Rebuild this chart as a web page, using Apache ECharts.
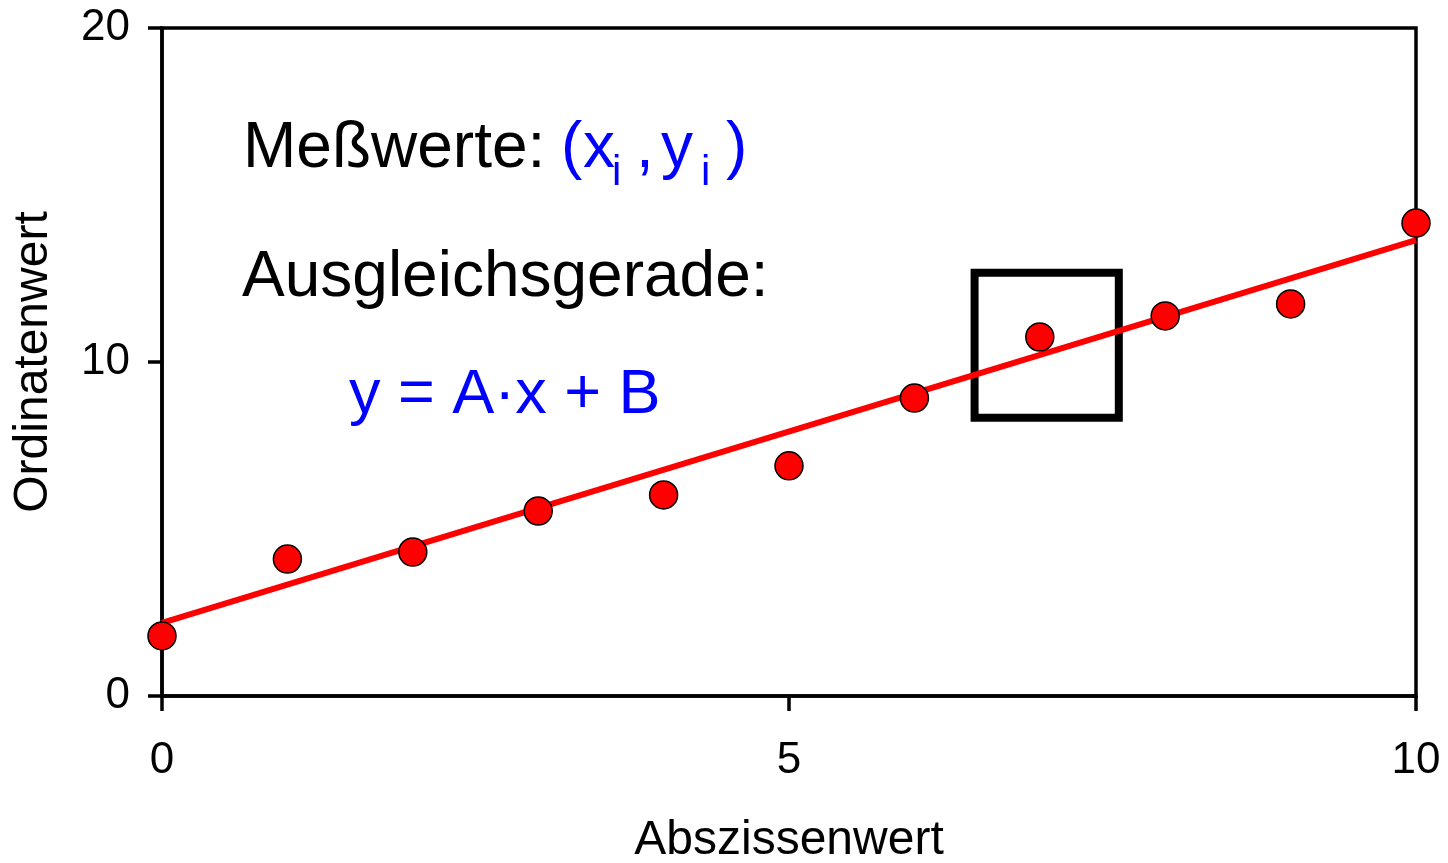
<!DOCTYPE html>
<html>
<head>
<meta charset="utf-8">
<style>
  html, body { margin: 0; padding: 0; background: #fff; }
  #chart { width: 1448px; height: 863px; }
</style>
<script src="https://cdn.jsdelivr.net/npm/echarts@6/dist/echarts.min.js"></script>
</head>
<body>
<div id="chart"></div>
<script>
// Measured points (x_i, y_i)
const xValues = [0, 1, 2, 3, 4, 5, 6, 7, 8, 9, 10];
const yValues = [1.80, 4.10, 4.31, 5.54, 6.02, 6.89, 8.92, 10.75, 11.38, 11.74, 14.16];

// End points of the fitted line y = A·x + B
const fitLine = [[0, 2.19], [10, 13.65]];

// Rectangle drawn around the highlighted measurement (data coordinates)
const highlightBox = { x0: 6.48, x1: 7.63, y0: 8.33, y1: 12.67 };

// Axis ranges and tick spacing
const xAxisRange = { min: 0, max: 10, interval: 5 };
const yAxisRange = { min: 0, max: 20, interval: 10 };

const axisTitles = { x: 'Abszissenwert', y: 'Ordinatenwert' };

const FONT = '"Liberation Sans", Arial, sans-serif';
const BLUE = '#0000ff';

const chart = echarts.init(document.getElementById('chart'), null, { renderer: 'canvas' });

const points = xValues.map((x, i) => [x, yValues[i]]);

function txt(text, x, y, size, color) {
  return {
    type: 'text', left: x, top: y,
    style: { text: text, fontFamily: FONT, fontSize: size, fill: color }
  };
}

const option = {
  animation: false,
  backgroundColor: '#fff',
  grid: {
    left: 162, right: 32, top: 28, bottom: 167,
    outerBoundsMode: 'none',
    containLabel: false,
    show: true, borderColor: '#000', borderWidth: 3.5, backgroundColor: 'transparent'
  },
  xAxis: {
    type: 'value',
    min: xAxisRange.min, max: xAxisRange.max, interval: xAxisRange.interval,
    name: axisTitles.x, nameLocation: 'middle', nameGap: 121,
    nameTextStyle: { fontFamily: FONT, fontSize: 48, color: '#000' },
    axisLine: { show: true, onZero: false, lineStyle: { color: '#000', width: 3.5 } },
    axisTick: { show: true, inside: false, length: 15, lineStyle: { color: '#000', width: 3.5 } },
    axisLabel: { fontFamily: FONT, fontSize: 44, color: '#000', margin: 43 },
    splitLine: { show: false }
  },
  yAxis: {
    type: 'value',
    min: yAxisRange.min, max: yAxisRange.max, interval: yAxisRange.interval,
    name: axisTitles.y, nameLocation: 'middle', nameGap: 104,
    nameTextStyle: { fontFamily: FONT, fontSize: 48, color: '#000' },
    axisLine: { show: true, onZero: false, lineStyle: { color: '#000', width: 3.5 } },
    axisTick: { show: true, inside: false, length: 14, lineStyle: { color: '#000', width: 3.5 } },
    axisLabel: { fontFamily: FONT, fontSize: 44, color: '#000', margin: 32 },
    splitLine: { show: false }
  },
  series: [
    {
      name: 'Ausgleichsgerade',
      type: 'line',
      data: fitLine,
      showSymbol: false,
      symbol: 'none',
      lineStyle: { color: '#ff0000', width: 6 },
      z: 2,
      markArea: {
        silent: true,
        itemStyle: { color: 'rgba(0,0,0,0)', borderColor: '#000', borderWidth: 8 },
        data: [[
          { coord: [highlightBox.x0, highlightBox.y1] },
          { coord: [highlightBox.x1, highlightBox.y0] }
        ]]
      }
    },
    {
      name: 'Meßwerte',
      type: 'scatter',
      data: points,
      symbol: 'circle',
      symbolSize: 28,
      itemStyle: { color: '#ff0000', borderColor: '#000', borderWidth: 1.5, opacity: 1 },
      z: 3
    }
  ],
  graphic: [
    txt('Meßwerte:', 243, 117, 64, '#000'),
    txt('(', 561, 117, 64, BLUE),
    txt('x', 583, 117, 64, BLUE),
    txt('i', 612, 152, 42, BLUE),
    txt(',', 636, 117, 64, BLUE),
    txt('y', 661, 117, 64, BLUE),
    txt('i', 701, 152, 42, BLUE),
    txt(')', 726, 117, 64, BLUE),
    txt('Ausgleichsgerade:', 242, 246, 64, '#000'),
    txt('y = A·x + B', 349, 364, 63, BLUE)
  ]
};

chart.setOption(option);
</script>
</body>
</html>
